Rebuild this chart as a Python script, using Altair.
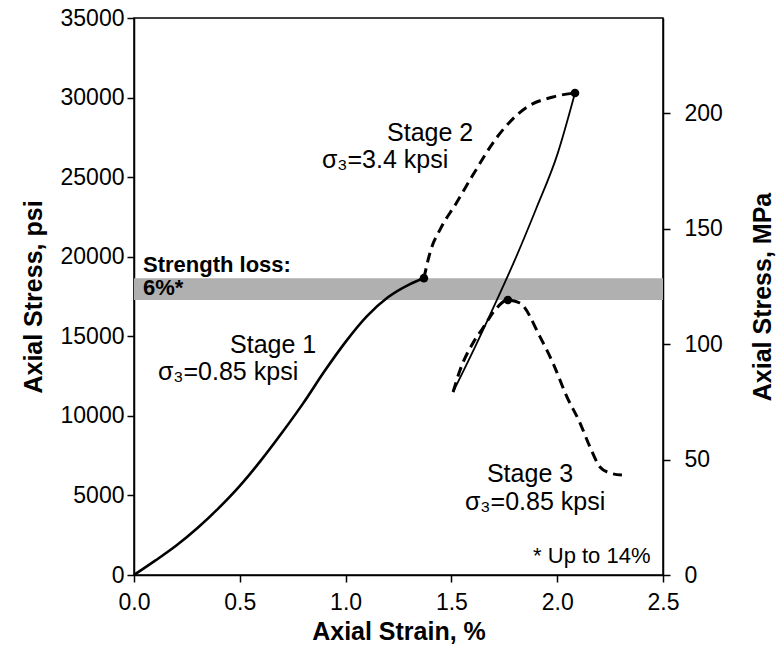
import altair as alt
import pandas as pd

# ---- data ----
s1_strain = [0.0, 0.1, 0.2, 0.3, 0.4, 0.5, 0.6, 0.7, 0.8, 0.9, 1.0, 1.1, 1.2, 1.3, 1.37]
s1_stress = [0, 900, 1850, 2950, 4200, 5600, 7200, 8950, 10800, 12800, 14650, 16250, 17450, 18250, 18650]

s2_strain = [1.37, 1.40, 1.45, 1.52, 1.60, 1.715, 1.857, 1.98, 2.084]
s2_stress = [18650, 20300, 21800, 23300, 25100, 27500, 29400, 30040, 30290]

unload_strain = [1.508, 1.6, 1.7, 1.8, 1.9, 2.0, 2.084]
unload_stress = [11500, 14000, 16850, 19800, 23000, 26400, 30290]

s3_strain = [1.508, 1.541, 1.602, 1.649, 1.706, 1.767, 1.824, 1.919, 1.98, 2.046, 2.108, 2.155, 2.202, 2.25, 2.306]
s3_stress = [11500, 12880, 14580, 15520, 16650, 17280, 17090, 14960, 13320, 11190, 9550, 8040, 6790, 6410, 6280]

peak_strain = [1.37, 2.084, 1.767]
peak_stress = [18650, 30290, 17280]

band_low = 17280
band_high = 18650

x_ticks = [0.0, 0.5, 1.0, 1.5, 2.0, 2.5]
y_ticks = [0, 5000, 10000, 15000, 20000, 25000, 30000, 35000]
mpa_ticks = [0, 50, 100, 150, 200]
PSI_PER_MPA = 145.038

normal_labels = ["Stage 1", "σ₃=0.85 kpsi", "Stage 2", "σ₃=3.4 kpsi", "Stage 3", "σ₃=0.85 kpsi"]
normal_x = [0.454, 0.113, 1.196, 0.888, 1.668, 1.564]
normal_y = [13950, 12250, 27270, 25580, 5840, 4085]

bold_labels = ["Strength loss:", "6%*"]
bold_x = [0.0425, 0.0425]
bold_y = [19040, 17595]

note_labels = ["* Up to 14%"]
note_x = [1.886]
note_y = [754]

FONT = "Liberation Sans"


def frame(x, y):
    return pd.DataFrame({"strain": x, "stress": y})


X = alt.X("strain:Q", scale=alt.Scale(domain=[0, 2.5], nice=False),
          axis=alt.Axis(values=x_ticks, format=".1f", title="Axial Strain, %",
                        labelPadding=9, titlePadding=5, labelFlush=False))
Y = alt.Y("stress:Q", scale=alt.Scale(domain=[0, 35000], nice=False),
          axis=alt.Axis(values=y_ticks, format="d", title="Axial Stress, psi", titlePadding=14,
                        labelFlush=False))

band_df = pd.DataFrame({"strain": [0.0], "strain2": [2.5], "stress": [band_low], "stress2": [band_high]})
band = alt.Chart(band_df).mark_rect(color="#b0b0b0").encode(x=X, x2="strain2:Q", y=Y, y2="stress2:Q")

line1 = alt.Chart(frame(s1_strain, s1_stress)).mark_line(
    color="black", strokeWidth=2.6, interpolate="monotone").encode(x=X, y=Y)
line2 = alt.Chart(frame(s2_strain, s2_stress)).mark_line(
    color="black", strokeWidth=3, strokeDash=[10, 6], interpolate="monotone").encode(x=X, y=Y)
unload = alt.Chart(frame(unload_strain, unload_stress)).mark_line(
    color="black", strokeWidth=1.8, interpolate="monotone").encode(x=X, y=Y)
line3 = alt.Chart(frame(s3_strain, s3_stress)).mark_line(
    color="black", strokeWidth=3, strokeDash=[10, 6], interpolate="monotone").encode(x=X, y=Y)

peaks = alt.Chart(frame(peak_strain, peak_stress)).mark_circle(
    color="black", size=75, opacity=1).encode(x=X, y=Y)


def labels(lst, xs, ys, **kw):
    d = pd.DataFrame({"strain": xs, "stress": ys, "label": lst})
    return alt.Chart(d).mark_text(align="left", baseline="alphabetic", color="black", font=FONT, **kw).encode(
        x=X, y=Y, text="label:N")


t_normal = labels(normal_labels, normal_x, normal_y, fontSize=25)
t_bold = labels(bold_labels, bold_x, bold_y, fontSize=22, fontWeight="bold")
t_note = labels(note_labels, note_x, note_y, fontSize=22)

psi_layer = alt.layer(band, line1, line2, unload, line3, peaks, t_normal, t_bold, t_note)

mpa_df = pd.DataFrame({"strain": peak_strain, "mpa": [v / PSI_PER_MPA for v in peak_stress]})
mpa_layer = alt.Chart(mpa_df).mark_point(opacity=0).encode(
    x=X,
    y=alt.Y("mpa:Q", scale=alt.Scale(domain=[0, 35000 / PSI_PER_MPA], nice=False),
            axis=alt.Axis(orient="right", values=mpa_ticks, format="d", title="Axial Stress, MPa",
                          titleAngle=270, titleBaseline="top", titlePadding=28,
                          labelPadding=14, labelFlush=False)),
)

chart = alt.layer(psi_layer, mpa_layer).resolve_scale(y="independent").properties(
    width=529, height=557,
    autosize=alt.AutoSizeParams(type="none"),
    padding={"left": 134, "top": 18, "right": 117, "bottom": 80},
    background="white",
).configure_axis(
    labelFont=FONT, labelFontSize=23, labelColor="black",
    titleFont=FONT, titleFontSize=25, titleFontWeight="bold", titleColor="black",
    domainColor="black", tickColor="black", domainWidth=1.5, tickWidth=1.5,
    tickSize=7, grid=False, labelPadding=3,
).configure_view(stroke="black", strokeWidth=1.5)

chart.save("out.html", embed_options={"renderer": "svg", "actions": False})
